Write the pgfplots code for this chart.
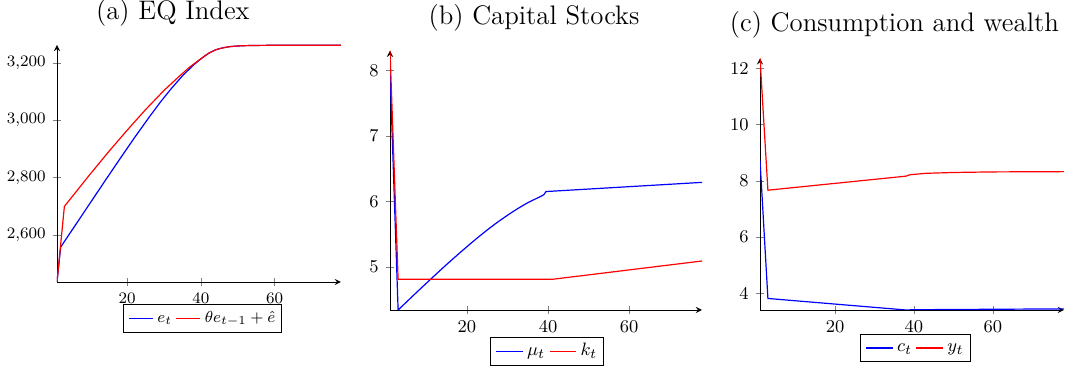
\documentclass[border=0pt]{standalone}
\usepackage{pgfplots}
\pgfplotsset{compat=1.18}
\usetikzlibrary{fit}

\definecolor{lgblue}{rgb}{0,0,1}
\definecolor{lgred}{rgb}{1,0,0}

% data
\pgfplotstableread{
x y
1 2435
2 2557
6 2634
10 2711
14 2788
18 2864
22 2939
26 3011
29 3063
32 3111
35 3155
38 3193
40 3214
41 3224
42 3233
43 3240
44 3246
45 3250
46 3253
47 3255.5
48 3257.5
50 3259.5
52 3260.7
55 3261.5
60 3262
78 3262
}\eqE
\pgfplotstableread{
x y
1 2435
3 2699
10 2812
15 2890
20 2965
25 3037
30 3104
34 3152
37 3186
40 3215
41 3224
42 3233
43 3240
44 3246
45 3250
46 3253
47 3255.5
48 3257.5
50 3259.5
52 3260.7
55 3261.5
60 3262
78 3262
}\eqTheta
\pgfplotstableread{
x y
1 8.0
3 4.342
5 4.46
7 4.578
9 4.695
11 4.81
13 4.925
15 5.038
17 5.148
19 5.256
21 5.362
23 5.465
25 5.564
27 5.658
29 5.746
31 5.830
33 5.908
35 5.980
37 6.040
38.5 6.085
39 6.105
39.5 6.150
78 6.29
}\capMu
\pgfplotstableread{
x y
1 8.30
3 4.81
41 4.81
78 5.09
}\capK
\pgfplotstableread{
x y
1 8.73
3 3.82
38 3.41
40 3.42
78 3.45
}\consC
\pgfplotstableread{
x y
1 12.36
3 7.67
38 8.17
39 8.22
43 8.27
50 8.30
60 8.32
78 8.33
}\consY

\pgfplotsset{
  panel/.style={
    axis lines=left,
    scale only axis,
    xmin=1, xmax=78,
    xtick={20,40,60},
    anchor=south west,
    every axis plot/.append style={line width=0.6pt},
  },
}
\tikzset{
  legtext/.style={inner sep=0pt, anchor=west, text height=6pt, text depth=2pt},
  legbox/.style={draw=black, line width=0.5pt, inner xsep=3pt, inner ysep=2.75pt},
}

\begin{document}
\begin{tikzpicture}
  \path[use as bounding box] (0,0) rectangle (534pt,186.5pt);

  % legend sample lines, filled as thin bars before anything else
  \fill[lgblue] (64.5pt,26.95pt) rectangle ++(12pt,0.6pt);
  \fill[lgblue] (248pt,10.3pt) rectangle ++(13.3pt,0.6pt);
  \fill[lgblue] (433pt,12.2pt) rectangle ++(13.3pt,0.6pt);

  % (a)
  \begin{axis}[panel,
      at={(28.5pt,45.5pt)}, width=142pt, height=118.5pt,
      ymin=2435, ymax=3263,
      ytick={2600,2800,3000,3200},
      tick label style={font=\fontsize{8.3}{10}\selectfont},
      title={(a) EQ Index},
      every axis title/.style={at={(0.408,1)}, anchor=base, yshift=12.5pt,
        font=\fontsize{13.4}{16}\selectfont},
    ]
    \addplot[blue] table {\eqE};
    \addplot[red] table {\eqTheta};
  \end{axis}
  \coordinate (a0) at (64.5pt,27.25pt);
  \node[legtext, font=\fontsize{8.3}{10}\selectfont] (a1) at ([xshift=14pt]a0) {$e_t$};
  \fill[lgred] ([xshift=2pt,yshift=-0.3pt]a1.east) rectangle ++(12pt,0.6pt)
    coordinate (a2s);
  \node[legtext, font=\fontsize{8.3}{10}\selectfont] (a2)
    at ([xshift=2pt,yshift=-0.3pt]a2s) {$\theta e_{t-1} + \hat{e}$};
  \node[legbox, fit=(a0)(a1)(a2)] {};

  % (b)
  \begin{axis}[panel,
      at={(195pt,31.5pt)}, width=156pt, height=129.65pt,
      ymin=4.342, ymax=8.30,
      ytick={5,6,7,8},
      tick label style={font=\fontsize{9.3}{11}\selectfont},
      title={(b) Capital Stocks},
      every axis title/.style={at={(0.4615,1)}, anchor=base, yshift=12.85pt,
        font=\fontsize{13.4}{16}\selectfont},
    ]
    \addplot[blue] table {\capMu};
    \addplot[red] table {\capK};
  \end{axis}
  \coordinate (b0) at (248pt,10.6pt);
  \node[legtext, font=\fontsize{9.3}{11}\selectfont] (b1) at ([xshift=15.3pt]b0) {$\mu_t$};
  \fill[lgred] ([xshift=2pt,yshift=-0.3pt]b1.east) rectangle ++(13.3pt,0.6pt)
    coordinate (b2s);
  \node[legtext, font=\fontsize{9.3}{11}\selectfont] (b2)
    at ([xshift=2pt,yshift=-0.3pt]b2s) {$k_t$};
  \node[legbox, fit=(b0)(b1)(b2)] {};

  % (c)
  \begin{axis}[panel,
      at={(380pt,31.5pt)}, width=152pt, height=125.85pt,
      ymin=3.41, ymax=12.36,
      ytick={4,6,8,10,12},
      tick label style={font=\fontsize{9.3}{11}\selectfont},
      title={(c) Consumption and wealth},
      every axis title/.style={at={(0.442,1)}, anchor=base, yshift=13.65pt,
        font=\fontsize{13.4}{16}\selectfont},
    ]
    \addplot[blue] table {\consC};
    \addplot[red] table {\consY};
  \end{axis}
  \coordinate (c0) at (433pt,12.5pt);
  \node[legtext, font=\fontsize{9.3}{11}\selectfont] (c1) at ([xshift=15.3pt]c0) {$c_t$};
  \fill[lgred] ([xshift=2pt,yshift=-0.3pt]c1.east) rectangle ++(13.3pt,0.6pt)
    coordinate (c2s);
  \node[legtext, font=\fontsize{9.3}{11}\selectfont] (c2)
    at ([xshift=2pt,yshift=-0.3pt]c2s) {$y_t$};
  \node[legbox, fit=(c0)(c1)(c2)] {};
\end{tikzpicture}
\end{document}
